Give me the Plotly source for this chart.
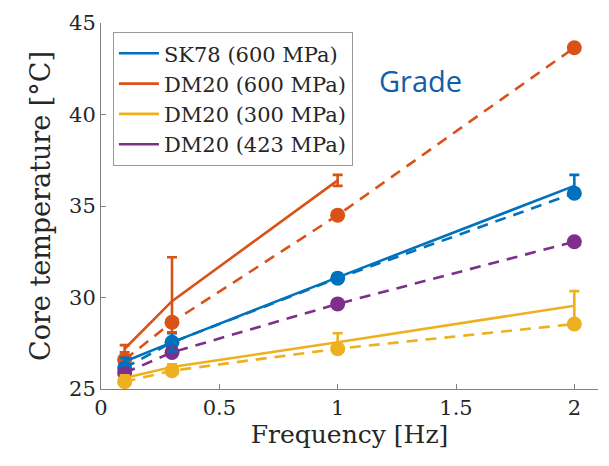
import plotly.graph_objects as go

freq = [0.1, 0.3, 1, 2]
freq3 = [0.1, 0.3, 1]

# measured (solid lines with error bars)
sk78_600 = [26.5, 27.55, 31.1, 36.1]
sk78_600_err = [0.2, 0.5, 0.2, 0.6]
dm20_600 = [27.2, 29.8, 36.4]
dm20_600_err_up = [0.2, 2.4, 0.3]
dm20_600_err_dn = [0.2, 1.7, 0.3]
dm20_300 = [25.6, 26.2, 27.55, 29.55]
dm20_300_err = [0.15, 0.15, 0.5, 0.8]

# predicted (dashed lines with circles)
sk78_600_p = [26.15, 27.55, 31.05, 35.7]
dm20_600_p = [26.6, 28.65, 34.5, 43.65]
dm20_300_p = [25.4, 26.0, 27.2, 28.55]
dm20_423_p = [25.88, 27.0, 29.65, 33.05]

labels = ["SK78 (600 MPa)", "DM20 (600 MPa)", "DM20 (300 MPa)", "DM20 (423 MPa)"]
colors = ["#0072BD", "#D95319", "#EDB120", "#7E2F8E"]

x_ticks = [0, 0.5, 1, 1.5, 2]
y_ticks = [25, 30, 35, 40, 45]

serif = "DejaVu Serif, serif"
LW = 2.6
MS = 15
DASH = "11px,8px"

fig = go.Figure()

# dashed predicted lines
for y, c in [(dm20_600_p, colors[1]), (sk78_600_p, colors[0]),
             (dm20_423_p, colors[3]), (dm20_300_p, colors[2])]:
    fig.add_trace(go.Scatter(x=freq, y=y, mode="lines+markers",
                             line=dict(color=c, width=LW, dash=DASH),
                             marker=dict(color=c, size=MS, symbol="circle"),
                             showlegend=False))

# solid measured lines with error bars
fig.add_trace(go.Scatter(x=freq, y=sk78_600, mode="lines", name=labels[0],
                         line=dict(color=colors[0], width=LW),
                         error_y=dict(type="data", array=sk78_600_err, color=colors[0],
                                      thickness=LW, width=5)))
fig.add_trace(go.Scatter(x=freq3, y=dm20_600, mode="lines", name=labels[1],
                         line=dict(color=colors[1], width=LW),
                         error_y=dict(type="data", symmetric=False, array=dm20_600_err_up,
                                      arrayminus=dm20_600_err_dn, color=colors[1],
                                      thickness=LW, width=5)))
fig.add_trace(go.Scatter(x=freq, y=dm20_300, mode="lines", name=labels[2],
                         line=dict(color=colors[2], width=LW),
                         error_y=dict(type="data", array=dm20_300_err, color=colors[2],
                                      thickness=LW, width=5)))
fig.add_trace(go.Scatter(x=[None], y=[None], mode="lines", name=labels[3],
                         line=dict(color=colors[3], width=LW)))

fig.add_annotation(text="Grade", x=(420 - 101) / 497, y=1 - (77 - 19) / 370,
                   xref="x domain", yref="y domain", xanchor="center", yanchor="middle",
                   showarrow=False, font=dict(family="Open Sans", size=29, color="#1060A8"))

axis_common = dict(showline=True, linecolor="#808080", linewidth=1, ticks="inside",
                   ticklen=5, tickcolor="#808080", showgrid=False, zeroline=False,
                   tickfont=dict(family=serif, size=21, color="#262626"))

fig.update_layout(
    width=609, height=466,
    margin=dict(l=101, r=11, t=19, b=77),
    paper_bgcolor="white", plot_bgcolor="white",
    xaxis=dict(range=[0, 2.1], tickvals=x_ticks, ticktext=[str(v) for v in x_ticks],
               title=dict(text="Frequency [Hz]", font=dict(family=serif, size=25, color="#262626"),
                          standoff=6),
               **axis_common),
    yaxis=dict(range=[25, 45], tickvals=y_ticks,
               title=dict(text="Core temperature [°C]", font=dict(family=serif, size=27, color="#262626"),
                          standoff=10),
               **axis_common),
    legend=dict(x=0.024, y=0.975, xanchor="left", yanchor="top",
                bgcolor="white", bordercolor="#999999", borderwidth=1,
                font=dict(family=serif, size=21, color="#262626"),
                tracegroupgap=0, itemwidth=40),
)

fig.write_html("out.html")
